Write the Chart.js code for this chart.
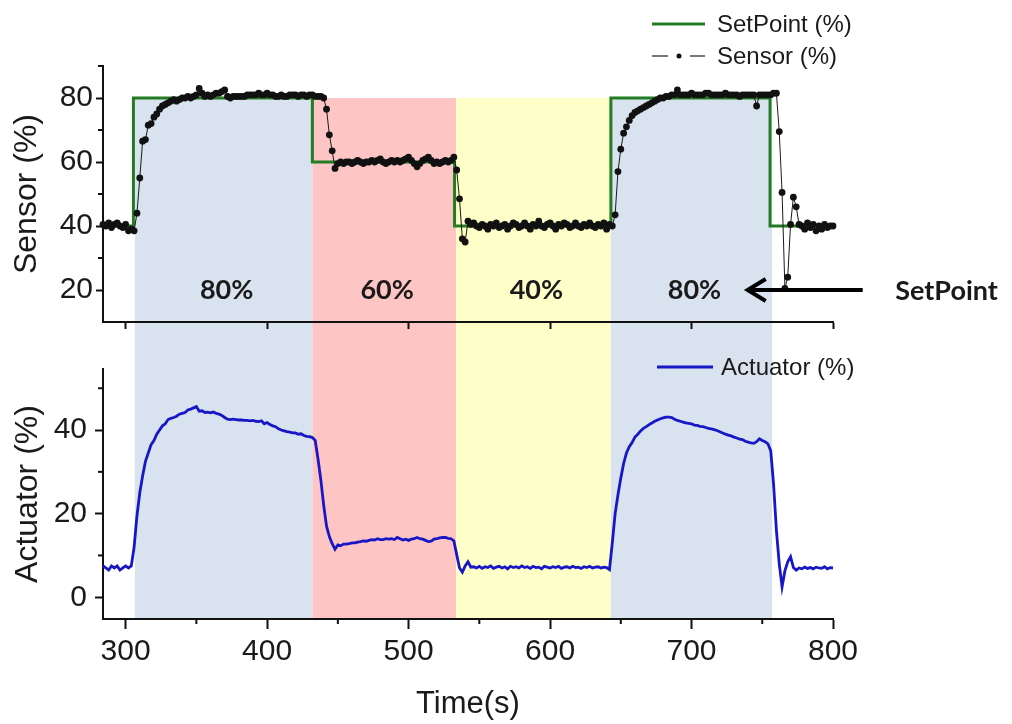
<!DOCTYPE html>
<html>
<head>
<meta charset="utf-8">
<script src="https://cdn.jsdelivr.net/npm/chart.js@4.4.1/dist/chart.umd.min.js"></script>
<style>
  html, body { margin: 0; padding: 0; background: #fff; }
  #wrap { position: relative; width: 1012px; height: 724px; overflow: hidden; }
  canvas { position: absolute; left: 0; }
  #sensorChart { top: 0; }
  #actuatorChart { top: 343px; }
</style>
</head>
<body>
<div id="wrap">
  <canvas id="sensorChart" width="1012" height="343"></canvas>
  <canvas id="actuatorChart" width="1012" height="381"></canvas>
</div>
<script>
// both signals logged every 2 s from t = 284 s
const T_START = 284;
const T_STEP = 2;

// one row = 10 samples (20 s), row start time in the comment
const SENSOR = [
  40.5, 40, 41, 39.5, 40.5, 41, 40, 39.5, 40.5, 38.5,      // 284
  39, 38.5, 44, 55, 66.5, 67, 71.5, 72, 74, 75,            // 304
  76.5, 77.5, 78, 78.5, 79, 79.5, 79, 79.5, 80, 80,        // 324
  80.5, 80, 80.5, 81, 83, 81.5, 80.5, 81, 80.5, 81,        // 344
  81.5, 81.5, 82, 82.5, 80.5, 80, 80.5, 80.5, 80.5, 80.5,  // 364
  80.5, 81, 81, 81, 81, 81.5, 81, 81, 81.5, 81,            // 384
  81, 80.5, 80.5, 81, 80.5, 80.5, 81, 81, 81, 80.5,        // 404
  81, 81, 80.5, 81, 81, 80.5, 80.5, 80.5, 80, 76.5,        // 424
  68.5, 63.5, 58, 59.5, 60, 59.5, 60, 60, 59.5, 60,        // 444
  60.5, 60, 59.5, 60, 60, 60.5, 60, 60.5, 61, 60,          // 464
  59.5, 60, 60.5, 60, 60.5, 60, 60.5, 61, 61.5, 60.5,      // 484
  59.5, 58.5, 59.5, 60.5, 61, 61.5, 60.5, 59.5, 60, 59.5,  // 504
  60, 60.5, 60, 60.5, 61.5, 57.5, 48.5, 36, 35, 41.5,      // 524
  40.5, 41, 40, 39.5, 40.5, 40, 39, 40.5, 40, 41,          // 544
  39.5, 40, 40.5, 39, 40, 41, 40.5, 39.5, 40, 41,          // 564
  40, 39, 40.5, 40, 41.5, 40, 39.5, 40.5, 41, 40,          // 584
  39, 40.5, 40, 41, 40.5, 39.5, 40, 41, 40, 39.5,          // 604
  40.5, 40, 41, 40, 39.5, 40.5, 40, 41, 39, 40.5,          // 624
  40, 43.5, 57, 64, 69, 71, 73, 74.5, 75.5, 76,            // 644
  76.5, 77, 77.5, 78, 78.5, 79, 79.5, 80, 80, 80.5,        // 664
  80.5, 81, 81, 82.5, 81, 81, 81, 81, 81.5, 81,            // 684
  81, 81, 81, 81.5, 81.5, 81, 81, 81, 81, 81,              // 704
  81.5, 81, 81, 81, 81, 80.5, 81, 81, 81, 81,              // 724
  81, 77.5, 81, 81, 81, 81, 81, 81.5, 81.5, 69.5,          // 744
  50.5, 20.5, 24, 40.5, 49, 46, 40.5, 40, 39, 41,          // 764
  39.5, 40.5, 38.5, 40, 39, 40.5, 39.5, 40, 40             // 784
];

const ACTUATOR = [
  7.5, 7, 6.5, 7.5, 7, 7.5, 6.5, 7, 7.5, 7,                // 284
  7.5, 12, 19.5, 25, 29, 32.5, 34.5, 36.5, 37.5, 39,       // 304
  40, 41, 41.5, 42.5, 42.8, 43, 43.3, 43.8, 44, 44.2,      // 324
  44.8, 45, 45.3, 45.6, 44.5, 44.6, 44.2, 44.3, 44.1, 44.3, // 344
  44, 43.8, 43.5, 43, 42.6, 42.5, 42.6, 42.5, 42.4, 42.4,  // 364
  42.3, 42.3, 42.2, 42.3, 42.1, 42, 42.2, 41.5, 41.8, 41.3, // 384
  41, 40.8, 40.3, 40, 39.8, 39.6, 39.5, 39.3, 39.3, 39,    // 404
  39.1, 38.7, 38.5, 38.4, 38.2, 37.5, 33, 28, 22, 17,      // 424
  14.5, 12.8, 11.5, 12.5, 12.3, 12.7, 12.7, 12.8, 13, 13,  // 444
  13.2, 13.3, 13.5, 13.4, 13.6, 13.8, 13.7, 14, 13.8, 13.8, // 464
  14, 13.9, 14, 13.8, 14.3, 14, 13.7, 13.9, 13.6, 13.9,    // 484
  14, 14.3, 14, 13.9, 13.6, 13.3, 13.4, 13.9, 14, 14.2,    // 504
  14.3, 14.3, 14.1, 14, 13.5, 10.2, 7, 6, 7.5, 8.5,        // 524
  7.2, 7.3, 7, 7.4, 6.9, 7.3, 7.1, 7.5, 6.9, 7.2,          // 544
  7.4, 7, 7.3, 6.8, 7.4, 7.1, 7.3, 7, 7.5, 7.1,            // 564
  7.3, 6.9, 7.4, 7.1, 7.2, 6.8, 7.4, 7.2, 7, 7.3,          // 584
  7.1, 7.4, 6.9, 7.2, 7.3, 7, 7.4, 7.1, 7.2, 6.9,          // 604
  7.3, 7.1, 7.4, 7, 7.2, 7.3, 7, 7.2, 7.1, 6.6,            // 624
  13, 20, 24.5, 28.5, 32, 34.5, 36, 37, 38.3, 39,          // 644
  39.8, 40.4, 40.8, 41.3, 41.7, 42.1, 42.4, 42.7, 42.9, 43.1, // 664
  43.1, 43, 42.6, 42.3, 42.1, 41.9, 41.7, 41.6, 41.5, 41.2, // 684
  41.1, 40.9, 40.8, 40.6, 40.4, 40.3, 40.1, 39.9, 39.6, 39.3, // 704
  39, 38.8, 38.6, 38.3, 38.1, 37.8, 37.7, 37.3, 37.1, 36.9, // 724
  36.8, 37.2, 37.9, 37.5, 37.2, 36.7, 35, 27, 16, 8,       // 744
  2.5, 6.3, 8.5, 9.7, 7.1, 6.5, 7, 6.8, 7.2, 6.9,          // 764
  7.1, 6.8, 7.2, 7, 6.9, 7.3, 6.8, 7.1, 7                  // 784
];

// set point changes (stepped line)
const SETPOINT_TIMES = [284, 305.5, 432, 532.5, 643, 755.5, 800];
const SETPOINT_VALUES = [40, 80, 60, 40, 80, 40, 40];

// shaded set point zones
const ZONE_START = [306.5, 432, 533.5, 643];
const ZONE_END = [432, 533.5, 643, 757];
const ZONE_LABELS = ['80%', '60%', '40%', '80%'];
const ZONE_COLORS = ['#d9e2ef', '#fdc6c4', '#fefec8', '#d9e2ef'];

// major (labelled) and minor ticks
const X_TICKS = [300, 400, 500, 600, 700, 800];
const X_MINOR = [350, 450, 550, 650, 750];
const SENSOR_TICKS = [20, 40, 60, 80];
const SENSOR_MINOR = [30, 50, 70, 90];
const ACTUATOR_TICKS = [0, 20, 40];
const ACTUATOR_MINOR = [10, 30, 50];

// arrow note: tail/tip time, level, text position
const NOTE_TAIL = 821, NOTE_TIP = 739, NOTE_LEVEL = 20, NOTE_TEXT_T = 844;

const INK = '#1a1a1a';
const SET_GREEN = '#237c23';
const ACT_BLUE = '#1717c6';

Chart.defaults.font.family = '"Liberation Sans", Arial, sans-serif';
Chart.defaults.color = INK;

const toPoints = arr => arr.map((v, i) => ({ x: T_START + i * T_STEP, y: v }));
const fixedTicks = list => scale => { scale.ticks = list.map(v => ({ value: v })); };

function seg(ctx, x0, y0, x1, y1) {
  ctx.beginPath();
  ctx.moveTo(x0, y0);
  ctx.lineTo(x1, y1);
  ctx.stroke();
}

const zonesPlugin = {
  id: 'zones',
  beforeDraw(chart, args, opts) {
    const { ctx, chartArea } = chart;
    const x = chart.scales.x, y = chart.scales.y;
    const top = opts.fromValue != null ? y.getPixelForValue(opts.fromValue) : 0;
    const bottom = opts.toCanvasEdge ? chart.height : chartArea.bottom;
    ctx.save();
    ZONE_START.forEach((s, i) => {
      const x0 = x.getPixelForValue(s);
      const x1 = x.getPixelForValue(ZONE_END[i]);
      ctx.fillStyle = ZONE_COLORS[i];
      ctx.fillRect(x0, top, x1 - x0, bottom - top);
    });
    ctx.restore();
  }
};

// shorter unlabeled ticks
const minorTicks = {
  id: 'minorTicks',
  afterDraw(chart, args, opts) {
    const { ctx, chartArea } = chart;
    ctx.save();
    ctx.strokeStyle = '#111';
    ctx.lineWidth = 2;
    (opts.x || []).forEach(v => {
      const px = chart.scales.x.getPixelForValue(v);
      seg(ctx, px, chartArea.bottom, px, chartArea.bottom + opts.len);
    });
    (opts.y || []).forEach(v => {
      const py = chart.scales.y.getPixelForValue(v);
      seg(ctx, chartArea.left - opts.len, py, chartArea.left, py);
    });
    ctx.restore();
  }
};

const sensorNotes = {
  id: 'sensorNotes',
  afterDraw(chart) {
    const { ctx } = chart;
    const x = chart.scales.x, y = chart.scales.y;
    const [sensorDs, setDs] = chart.data.datasets;
    ctx.save();

    // zone labels
    ctx.font = 'bold 27px Lato, "Open Sans", sans-serif';
    ctx.textAlign = 'center';
    ctx.textBaseline = 'middle';
    ctx.fillStyle = INK;
    ZONE_LABELS.forEach((lab, i) => {
      const cx = (x.getPixelForValue(ZONE_START[i]) + x.getPixelForValue(ZONE_END[i])) / 2 + 3;
      ctx.fillText(lab, cx, y.getPixelForValue(20));
    });

    // arrow + "SetPoint"
    const ay = y.getPixelForValue(NOTE_LEVEL);
    const tip = x.getPixelForValue(NOTE_TIP);
    ctx.strokeStyle = '#000';
    ctx.lineWidth = 4;
    seg(ctx, x.getPixelForValue(NOTE_TAIL), ay, tip + 2, ay);
    ctx.lineJoin = 'miter';
    ctx.beginPath();
    ctx.moveTo(tip + 19, ay - 11);
    ctx.lineTo(tip + 1, ay);
    ctx.lineTo(tip + 19, ay + 11);
    ctx.stroke();
    ctx.textAlign = 'left';
    ctx.font = 'bold 27px Lato, "Open Sans", sans-serif';
    ctx.fillText('SetPoint', x.getPixelForValue(NOTE_TEXT_T), ay + 1);

    // legend
    ctx.font = '24px "Liberation Sans", Arial, sans-serif';
    ctx.strokeStyle = setDs.borderColor;
    ctx.lineWidth = 3;
    seg(ctx, 652, 24, 705, 24);
    ctx.fillStyle = INK;
    ctx.fillText(setDs.label, 717, 25);

    ctx.strokeStyle = sensorDs.borderColor;
    ctx.lineWidth = 1.2;
    seg(ctx, 652, 56, 668, 56);
    seg(ctx, 690, 56, 705, 56);
    ctx.fillStyle = sensorDs.pointBackgroundColor;
    ctx.beginPath();
    ctx.arc(679, 56, 2.5, 0, Math.PI * 2);
    ctx.fill();
    ctx.fillStyle = INK;
    ctx.fillText(sensorDs.label, 717, 57);
    ctx.restore();
  }
};

const actuatorLegend = {
  id: 'actuatorLegend',
  afterDraw(chart) {
    const { ctx } = chart;
    const ds = chart.data.datasets[0];
    ctx.save();
    ctx.strokeStyle = ds.borderColor;
    ctx.lineWidth = 3;
    seg(ctx, 657, 24, 713, 24);
    ctx.font = '24px "Liberation Sans", Arial, sans-serif';
    ctx.textBaseline = 'middle';
    ctx.fillStyle = INK;
    ctx.fillText(ds.label, 721, 25);
    ctx.restore();
  }
};

function axisGrid(len) {
  return { drawOnChartArea: false, drawTicks: true, tickLength: len, tickColor: '#111', tickWidth: 2 };
}
const axisBorder = { display: true, color: '#111', width: 2 };

// top panel: sensor vs set point
new Chart(document.getElementById('sensorChart'), {
  type: 'line',
  data: {
    datasets: [{
      label: 'Sensor (%)',
      data: toPoints(SENSOR),
      borderColor: '#1a1a1a',
      borderWidth: 1,
      pointRadius: 3.4,
      pointBackgroundColor: '#111',
      pointBorderWidth: 0,
      pointHoverRadius: 0,
      tension: 0,
      clip: false
    }, {
      label: 'SetPoint (%)',
      data: SETPOINT_TIMES.map((t, i) => ({ x: t, y: SETPOINT_VALUES[i] })),
      borderColor: SET_GREEN,
      borderWidth: 3,
      pointRadius: 0,
      stepped: 'before',
      clip: false
    }]
  },
  options: {
    responsive: false,
    animation: false,
    events: [],
    layout: { padding: { top: 66, right: 179, bottom: 0, left: 0 } },
    plugins: {
      legend: { display: false },
      tooltip: { enabled: false },
      zones: { fromValue: 80, toCanvasEdge: true },
      minorTicks: { y: SENSOR_MINOR, len: 5 }
    },
    scales: {
      x: {
        type: 'linear', min: 284, max: 800,
        afterBuildTicks: fixedTicks(X_TICKS),
        ticks: { display: false },
        grid: axisGrid(7),
        border: axisBorder,
        afterFit: s => { s.height = 20; }
      },
      y: {
        min: 10, max: 90,
        afterBuildTicks: fixedTicks(SENSOR_TICKS),
        ticks: { autoSkip: false, padding: 3, font: { size: 30 }, color: INK },
        grid: axisGrid(7),
        border: axisBorder,
        title: { display: true, text: 'Sensor (%)', font: { size: 32, lineHeight: 1 }, color: INK, padding: { top: 11, bottom: 0 } },
        afterFit: s => { s.width = 103; }
      }
    }
  },
  plugins: [zonesPlugin, minorTicks, sensorNotes]
});

// bottom panel: actuator output
new Chart(document.getElementById('actuatorChart'), {
  type: 'line',
  data: {
    datasets: [{
      label: 'Actuator (%)',
      data: toPoints(ACTUATOR),
      borderColor: ACT_BLUE,
      borderWidth: 2.8,
      pointRadius: 0,
      tension: 0,
      clip: false
    }]
  },
  options: {
    responsive: false,
    animation: false,
    events: [],
    layout: { padding: { top: 19, right: 179, bottom: 0, left: 0 } },
    plugins: {
      legend: { display: false },
      tooltip: { enabled: false },
      zones: { toCanvasEdge: false },
      minorTicks: { x: X_MINOR, y: ACTUATOR_MINOR, len: 5 }
    },
    scales: {
      x: {
        type: 'linear', min: 284, max: 800,
        afterBuildTicks: fixedTicks(X_TICKS),
        ticks: { autoSkip: false, maxRotation: 0, padding: 5, font: { size: 30 }, color: INK },
        grid: axisGrid(10),
        border: axisBorder,
        title: { display: true, text: 'Time(s)', font: { size: 31, lineHeight: 1 }, color: INK, padding: { top: 0, bottom: 4 } },
        afterFit: s => { s.height = 105; }
      },
      y: {
        min: -5.2, max: 54.6,
        afterBuildTicks: fixedTicks(ACTUATOR_TICKS),
        ticks: { autoSkip: false, padding: 8, font: { size: 30 }, color: INK },
        grid: axisGrid(8),
        border: axisBorder,
        title: { display: true, text: 'Actuator (%)', font: { size: 32, lineHeight: 1 }, color: INK, padding: { top: 12, bottom: 0 } },
        afterFit: s => { s.width = 103; }
      }
    }
  },
  plugins: [zonesPlugin, minorTicks, actuatorLegend]
});
</script>
</body>
</html>
